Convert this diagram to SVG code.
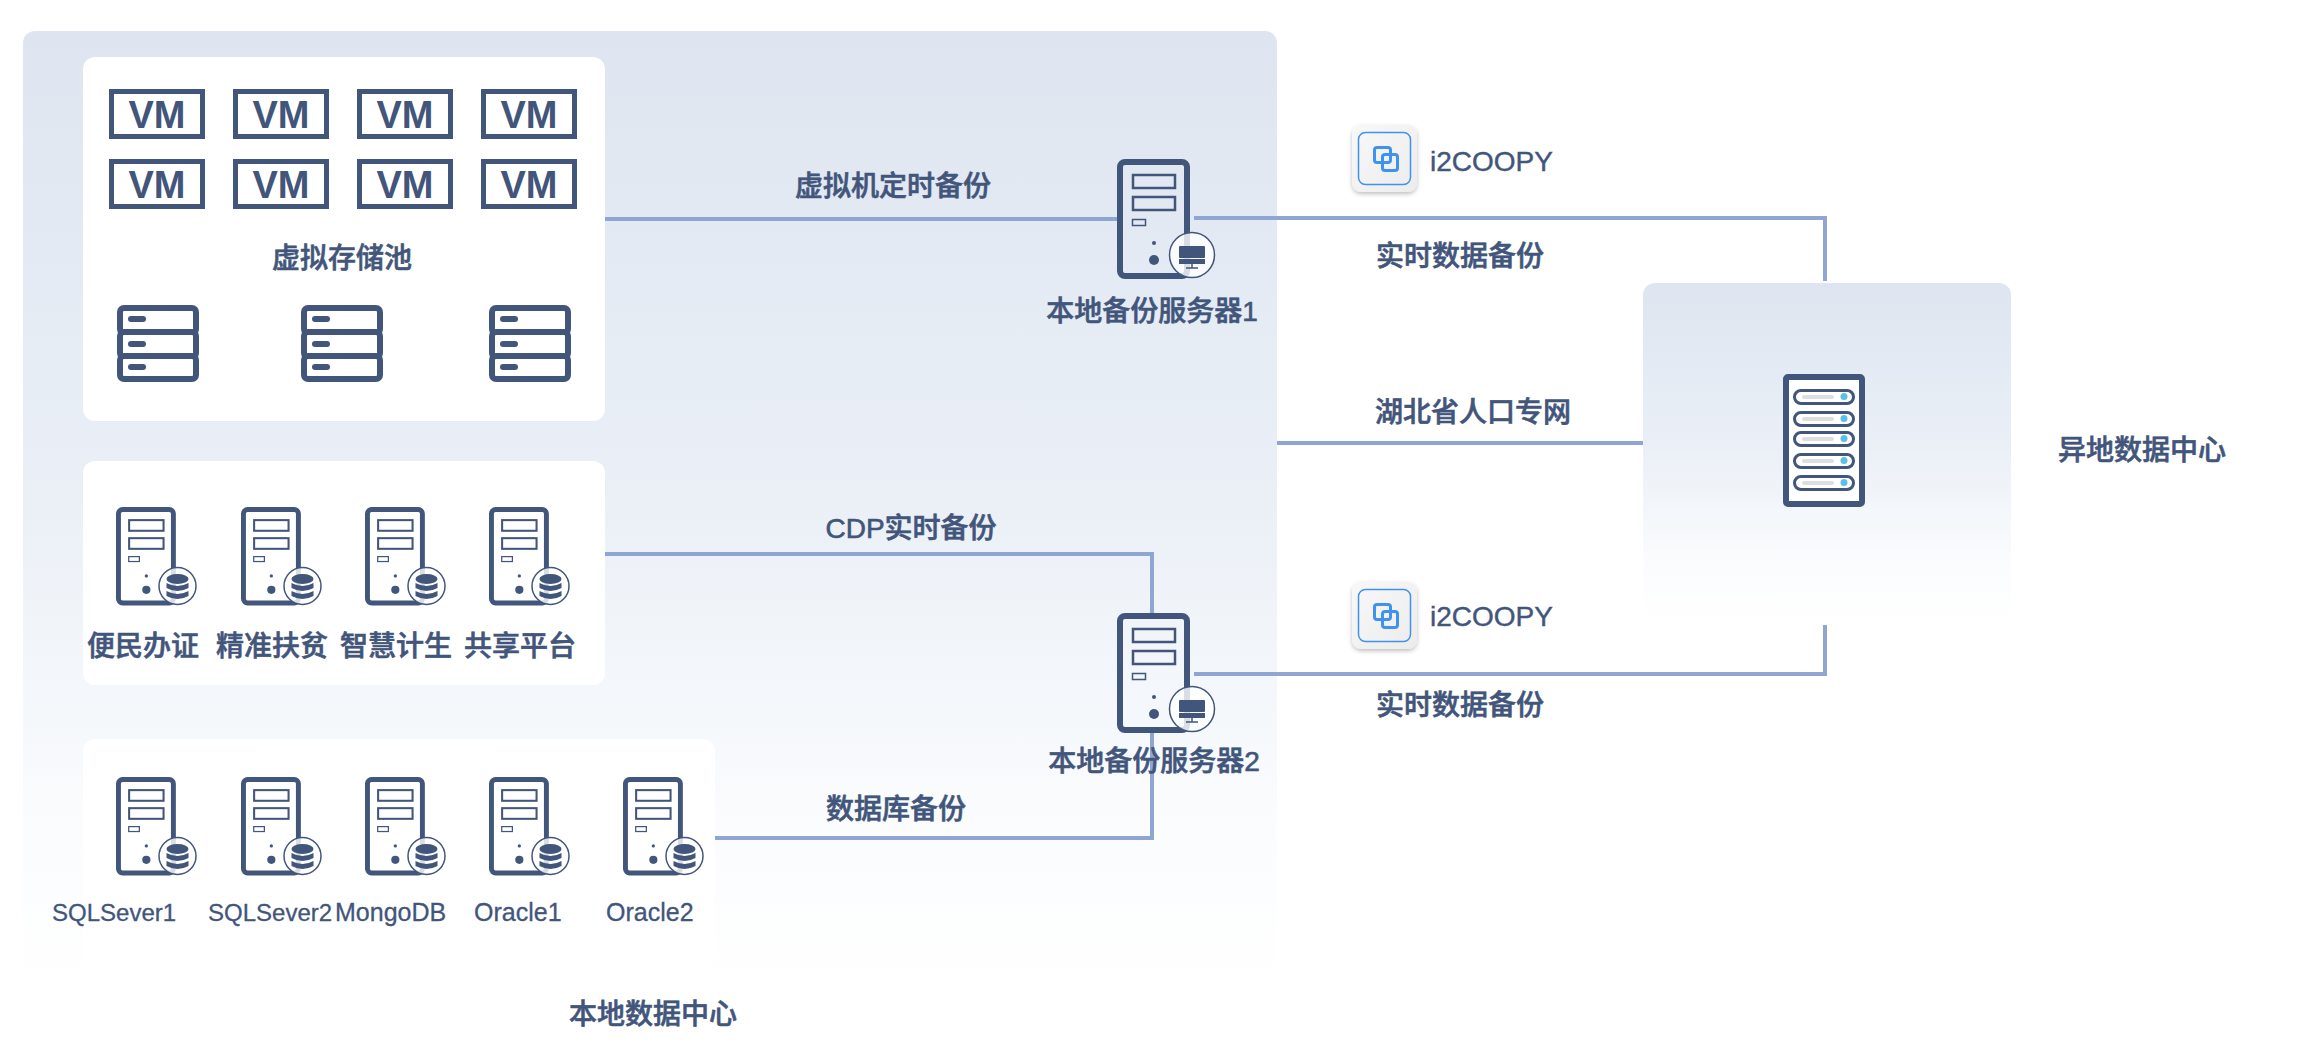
<svg xmlns="http://www.w3.org/2000/svg" width="2300" height="1064" viewBox="0 0 2300 1064">
<style>
text{font-family:"Liberation Sans","Noto Sans CJK SC",sans-serif;fill:#42557b}
.c{font-size:28px;font-weight:500;text-anchor:middle;dominant-baseline:central;stroke:#42557b;stroke-width:.6}
.s{font-size:24px;stroke:#42557b;stroke-width:.3}
.m{font-size:25px;stroke:#42557b;stroke-width:.3}
.b{font-size:28px;stroke:#42557b;stroke-width:.4}
.vmt{font-size:38px;font-weight:700;text-anchor:middle}
.ln{fill:none;stroke:#8fa6d3;stroke-width:4}
.d{fill:#42557b}
.o{fill:none;stroke:#42557b}
.h{fill:#fff;stroke:#42557b}
</style>
<defs>
<linearGradient id="bg" x1="0" y1="0" x2="0" y2="1"><stop offset="0" stop-color="#dee5f0"/><stop offset=".5" stop-color="#ebf0f7"/><stop offset=".8" stop-color="#f9fbfd"/><stop offset="1" stop-color="#fff"/></linearGradient>
<linearGradient id="ic" x1="0" y1="0" x2="1" y2="1"><stop offset="0" stop-color="#f8f8f8"/><stop offset="1" stop-color="#ececec"/></linearGradient>
<filter id="sh" x="-20%" y="-20%" width="140%" height="140%"><feDropShadow dx="0" dy="2" stdDeviation="2" flood-color="#000" flood-opacity=".25"/></filter>
<g id="tower">
<rect class="o" x="3" y="3" width="67" height="114" rx="5" stroke-width="6"/>
<rect class="o" x="16" y="16" width="42" height="13" stroke-width="2.500"/>
<rect class="o" x="16" y="38" width="42" height="13" stroke-width="2.500"/>
<rect class="o" x="15.500" y="60.500" width="13" height="6" stroke-width="1.500"/>
<circle class="d" cx="37" cy="84" r="2"/>
<circle class="d" cx="37" cy="101" r="5"/>
</g>
<g id="srv">
<use href="#tower"/>
<circle cx="75" cy="96" r="22.500" fill="#fff" fill-opacity=".8" stroke="#42557b" stroke-width="1.500"/>
<rect class="d" x="62" y="87" width="26" height="12" rx="1"/>
<rect class="d" x="62" y="100" width="26" height="5"/>
<path d="M75 105v4M69 109h12" stroke="#42557b" stroke-width="1.500" fill="none"/>
</g>
<g id="dbs">
<use href="#tower" transform="scale(.82)"/>
<circle cx="61.500" cy="79" r="18.500" fill="#fff" fill-opacity=".8" stroke="#42557b" stroke-width="1.500"/>
<ellipse class="d" cx="61.500" cy="72" rx="11" ry="5"/>
<path class="d" d="M50.500 76q11 6 22 0v5q-11 6-22 0z"/>
<path class="d" d="M50.500 84q11 6 22 0v5q-11 6-22 0z"/>
</g>
<g id="vm">
<rect x="2.500" y="2.500" width="91" height="45" fill="#fff" stroke="#42557b" stroke-width="5"/>
<text class="vmt" x="48" y="39">VM</text>
</g>
<g id="stor">
<rect class="h" x="3" y="3" width="76" height="25" rx="4" stroke-width="6"/>
<rect class="h" x="3" y="27" width="76" height="25" rx="4" stroke-width="6"/>
<rect class="h" x="3" y="51" width="76" height="23" rx="4" stroke-width="6"/>
<rect class="d" x="11" y="11" width="18" height="6" rx="3"/>
<rect class="d" x="11" y="36" width="18" height="6" rx="3"/>
<rect class="d" x="11" y="59" width="18" height="6" rx="3"/>
</g>
<g id="logo">
<rect x="0" y="0" width="65" height="67" rx="9" fill="url(#ic)" filter="url(#sh)"/>
<rect x="6.500" y="7.500" width="52" height="52" rx="7" fill="none" stroke="#3f93ee" stroke-width="1.500"/>
<rect x="22.500" y="22.500" width="16" height="15" rx="2.500" fill="none" stroke="#3f93ee" stroke-width="3"/>
<rect x="30.500" y="29.500" width="15" height="16" rx="2.500" fill="none" stroke="#3f93ee" stroke-width="3"/>
</g>
<g id="pill">
<rect x="1.500" y="1.500" width="59" height="13" rx="6.500" fill="#fff" stroke="#42557b" stroke-width="3"/>
<rect x="9" y="6" width="32" height="4" rx="2" fill="#dedede"/>
<circle cx="51" cy="7.500" r="3.500" fill="#5cc0e4"/>
</g>
</defs>

<rect id="panel-local" x="23" y="31" width="1254" height="954" rx="12" fill="url(#bg)"/>
<rect id="panel-remote" x="1643" y="283" width="368" height="336" rx="12" fill="url(#bg)"/>

<g id="connectors">
<path class="ln" d="M605 219H1117"/>
<path class="ln" d="M1194 218H1825V281"/>
<path class="ln" d="M1277 443H1643"/>
<path class="ln" d="M605 554H1152V613"/>
<path class="ln" d="M715 838H1152V733"/>
<path class="ln" d="M1194 674H1825V625"/>
</g>

<g id="vm-pool">
<rect x="83" y="57" width="522" height="364" rx="12" fill="#fff"/>
<use href="#vm" x="109" y="89"/><use href="#vm" x="233" y="89"/><use href="#vm" x="357" y="89"/><use href="#vm" x="481" y="89"/>
<use href="#vm" x="109" y="159"/><use href="#vm" x="233" y="159"/><use href="#vm" x="357" y="159"/><use href="#vm" x="481" y="159"/>
<text class="c" x="342" y="258">虚拟存储池</text>
<use href="#stor" x="117" y="305"/><use href="#stor" x="301" y="305"/><use href="#stor" x="489" y="305"/>
</g>

<g id="apps">
<rect x="83" y="461" width="522" height="224" rx="12" fill="#fff"/>
<use href="#dbs" x="116" y="507"/><use href="#dbs" x="241" y="507"/><use href="#dbs" x="365" y="507"/><use href="#dbs" x="489" y="507"/>
<text class="c" x="143" y="646">便民办证</text>
<text class="c" x="272" y="646">精准扶贫</text>
<text class="c" x="396" y="646">智慧计生</text>
<text class="c" x="520" y="646">共享平台</text>
</g>

<g id="databases">
<rect x="83" y="739" width="632" height="225" rx="12" fill="#fff"/>
<use href="#dbs" x="116" y="777"/><use href="#dbs" x="241" y="777"/><use href="#dbs" x="365" y="777"/><use href="#dbs" x="489" y="777"/><use href="#dbs" x="623" y="777"/>
<text class="s" x="52" y="921">SQLSever1</text>
<text class="s" x="208" y="921">SQLSever2</text>
<text class="m" x="335" y="921">MongoDB</text>
<text class="m" x="474" y="921">Oracle1</text>
<text class="m" x="606" y="921">Oracle2</text>
</g>

<g id="server1"><use href="#srv" x="1117" y="159"/><text class="c" x="1152" y="311">本地备份服务器1</text></g>
<g id="server2"><use href="#srv" x="1117" y="613"/><text class="c" x="1154" y="761">本地备份服务器2</text></g>

<g id="i2coopy1"><use href="#logo" x="1352" y="125"/><text class="b" x="1430" y="171">i2COOPY</text></g>
<g id="i2coopy2"><use href="#logo" x="1352" y="582"/><text class="b" x="1430" y="626">i2COOPY</text></g>

<g id="remote-server">
<rect x="1786" y="377" width="76" height="127" rx="2" fill="#fff" stroke="#42557b" stroke-width="6"/>
<use href="#pill" x="1793" y="389"/><use href="#pill" x="1793" y="411"/><use href="#pill" x="1793" y="431"/><use href="#pill" x="1793" y="453"/><use href="#pill" x="1793" y="475"/>
</g>

<g id="labels">
<text class="c" x="893" y="186">虚拟机定时备份</text>
<text class="c" x="1460" y="256">实时数据备份</text>
<text class="c" x="1473" y="412">湖北省人口专网</text>
<text class="c" x="911" y="528">CDP实时备份</text>
<text class="c" x="1460" y="705">实时数据备份</text>
<text class="c" x="896" y="809">数据库备份</text>
<text class="c" x="2142" y="450">异地数据中心</text>
<text class="c" x="653" y="1014">本地数据中心</text>
</g>
</svg>
